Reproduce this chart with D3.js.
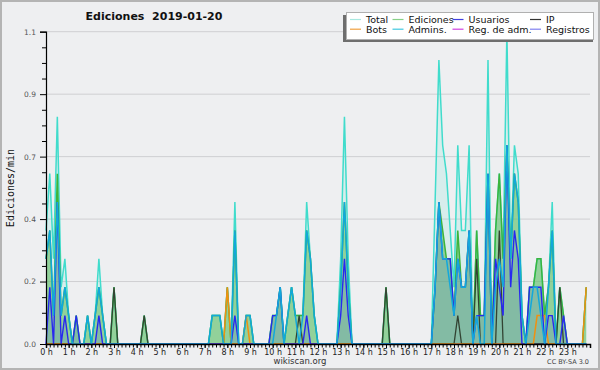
<!DOCTYPE html>
<html>
<head>
<meta charset="utf-8">
<script src="https://cdn.jsdelivr.net/npm/d3@7"></script>
<style>
  body { margin: 0; background: #eeeff1; }
  svg { display: block; }
</style>
</head>
<body>
<div id="chart"></div>
<script>
// Ediciones por minuto, intervalos de 10 minutos (144 por día)
const hourLabels = ["0 h","1 h","2 h","3 h","4 h","5 h","6 h","7 h","8 h","9 h","10 h","11 h",
  "12 h","13 h","14 h","15 h","16 h","17 h","18 h","19 h","20 h","21 h","22 h","23 h"];
const yTicks = [0, 0.22, 0.44, 0.66, 0.88, 1.1];

const total = [
  0.4,0.6,0.3,0.8,0.2,0.3, 0.1,0,0.1,0,0,0.1, 0,0.1,0.3,0.1,0,0, 0.2,0,0,0,0,0,
  0,0,0.1,0,0,0, 0,0,0,0,0,0, 0,0,0,0,0,0, 0,0,0.1,0.1,0.1,0,
  0.2,0,0.5,0,0,0.1, 0.1,0,0,0,0,0, 0.1,0.1,0.2,0,0.1,0.2, 0.1,0.1,0.1,0.5,0.3,0.1,
  0,0,0,0,0,0, 0.3,0.8,0.3,0,0,0, 0,0,0,0,0,0, 0.2,0,0,0,0,0,
  0,0,0,0,0,0, 0,0.5,1.0,0.7,0.6,0.4, 0.2,0.7,0.4,0.4,0.7,0, 0.4,0.1,0.1,1.0,0,0.4,
  0.6,0.3,1.1,0.3,0.7,0.6, 0.1,0,0.2,0.2,0.3,0.3, 0.1,0.2,0.5,0,0.2,0.1, 0,0,0,0,0,0.2
];
const ediciones = [
  0.3,0.4,0.1,0.6,0.1,0.2, 0.1,0,0.1,0,0,0.1, 0,0.1,0.2,0.1,0,0, 0.2,0,0,0,0,0,
  0,0,0.1,0,0,0, 0,0,0,0,0,0, 0,0,0,0,0,0, 0,0,0.1,0.1,0.1,0,
  0.2,0,0.4,0,0,0.1, 0.1,0,0,0,0,0, 0.1,0.1,0.2,0,0.1,0.2, 0.1,0.1,0.1,0.4,0.3,0.1,
  0,0,0,0,0,0, 0.2,0.5,0.2,0,0,0, 0,0,0,0,0,0, 0.2,0,0,0,0,0,
  0,0,0,0,0,0, 0,0.2,0.5,0.4,0.3,0.3, 0.1,0.4,0.2,0.2,0.4,0, 0.4,0.1,0.1,0.6,0,0.4,
  0.6,0.3,0.7,0.3,0.6,0.5, 0.1,0,0.2,0.2,0.3,0.3, 0.1,0.2,0.4,0,0.2,0.1, 0,0,0,0,0,0.2
];
const usuarios = [
  0,0.2,0,0.5,0,0.1, 0,0,0.1,0,0,0, 0,0,0.1,0,0,0, 0,0,0,0,0,0,
  0,0,0,0,0,0, 0,0,0,0,0,0, 0,0,0,0,0,0, 0,0,0,0,0,0,
  0,0,0.1,0,0,0, 0,0,0,0,0,0, 0.1,0.1,0.2,0,0,0, 0,0,0,0.1,0,0,
  0,0,0,0,0,0, 0.1,0.3,0.1,0,0,0, 0,0,0,0,0,0, 0,0,0,0,0,0,
  0,0,0,0,0,0, 0,0.2,0.5,0.3,0.3,0.3, 0.1,0.3,0.2,0.2,0.4,0, 0.1,0.1,0.1,0.6,0,0.3,
  0.2,0.1,0.7,0.2,0.4,0.3, 0,0,0.2,0.2,0.2,0.2, 0,0.1,0.1,0,0,0.1, 0,0,0,0,0,0
];
const ip = [
  0,0,0,0,0,0, 0,0,0,0,0,0, 0,0,0,0,0,0, 0.2,0,0,0,0,0,
  0,0,0.1,0,0,0, 0,0,0,0,0,0, 0,0,0,0,0,0, 0,0,0,0,0,0,
  0,0,0,0,0,0, 0,0,0,0,0,0, 0,0,0,0,0,0, 0,0.1,0,0,0,0,
  0,0,0,0,0,0, 0,0,0,0,0,0, 0,0,0,0,0,0, 0.2,0,0,0,0,0,
  0,0,0,0,0,0, 0,0,0,0,0,0, 0,0.1,0,0,0,0, 0.3,0,0,0,0,0,
  0.4,0,0,0,0,0, 0,0,0,0,0,0, 0,0,0,0,0.2,0, 0,0,0,0,0,0
];
const bots = [
  0,0,0,0,0,0, 0,0,0,0,0,0, 0,0,0,0,0,0, 0,0,0,0,0,0,
  0,0,0,0,0,0, 0,0,0,0,0,0, 0,0,0,0,0,0, 0,0,0,0,0,0,
  0.2,0,0,0,0,0.1, 0,0,0,0,0,0, 0,0,0,0,0,0, 0,0,0,0,0,0,
  0,0,0,0,0,0, 0,0,0,0,0,0, 0,0,0,0,0,0, 0,0,0,0,0,0,
  0,0,0,0,0,0, 0,0,0,0,0,0, 0,0,0,0,0,0, 0,0,0,0,0,0,
  0,0,0,0,0,0, 0,0,0,0,0.1,0.1, 0.1,0,0,0,0,0, 0,0,0,0,0,0.2
];
const admins = [
  0.3,0.4,0.1,0.5,0.1,0.2, 0.1,0,0,0,0,0.1, 0,0.1,0.2,0.1,0,0, 0,0,0,0,0,0,
  0,0,0,0,0,0, 0,0,0,0,0,0, 0,0,0,0,0,0, 0,0,0.1,0.1,0.1,0,
  0,0,0.4,0,0,0.1, 0.1,0,0,0,0,0, 0,0.1,0.2,0,0.1,0.2, 0.1,0,0.1,0.4,0.3,0.1,
  0,0,0,0,0,0, 0.2,0.5,0.2,0,0,0, 0,0,0,0,0,0, 0,0,0,0,0,0,
  0,0,0,0,0,0, 0,0.2,0.5,0.3,0.3,0.2, 0.1,0.3,0.2,0.2,0.4,0, 0.1,0,0,0.6,0,0.2,
  0.3,0.2,0.7,0.3,0.6,0.5, 0.1,0,0.1,0.2,0.2,0.1, 0,0.2,0.4,0,0,0, 0,0,0,0,0,0
];
const regAdm = new Array(144).fill(0);
const registros = new Array(144).fill(0);

const W = 600, H = 370;
const svg = d3.select("#chart").append("svg")
  .attr("width", W).attr("height", H)
  .style("font-family", "DejaVu Sans, sans-serif");

svg.append("rect").attr("x", 1).attr("y", 1).attr("width", W - 2).attr("height", H - 2)
  .attr("fill", "#eeeff1").attr("stroke", "#b4b4b4").attr("stroke-width", 2);

const x = d3.scaleLinear().domain([0, 144]).range([46, 590]);
const y = d3.scaleLinear().domain([0, 1.1]).range([344, 31.7]);

// rejilla horizontal
svg.append("g").selectAll("line").data(yTicks.slice(1)).enter().append("line")
  .attr("x1", 46).attr("x2", 590)
  .attr("y1", d => y(d)).attr("y2", d => y(d))
  .attr("stroke", "#cfcfd2").attr("stroke-width", 1);

const area = d3.area().x((d, i) => x(i)).y0(y(0)).y1(d => y(d));
const line = d3.line().x((d, i) => x(i)).y(d => y(d));

const plot = svg.append("g");
plot.append("path").datum(total).attr("d", area).attr("fill", "rgba(64,224,208,0.13)");
plot.append("path").datum(ediciones).attr("d", area).attr("fill", "rgba(100,190,100,0.6)");
plot.append("path").datum(usuarios).attr("d", area).attr("fill", "rgba(0,0,255,0.1)");

const series = [
  { data: total, color: "#40dccc", w: 1.5 },
  { data: ediciones, color: "#3cb43c", w: 1.5 },
  { data: regAdm, color: "#cc44dd", w: 1.5 },
  { data: registros, color: "#8080ff", w: 1.5 },
  { data: ip, color: "#334433", w: 1.3 },
  { data: bots, color: "#f09010", w: 1.5 },
  { data: usuarios, color: "#2828f0", w: 1.4 },
  { data: admins, color: "#12a8dc", w: 1.5 }
];
series.forEach(s => {
  plot.append("path").datum(s.data).attr("d", line)
    .attr("fill", "none").attr("stroke", s.color).attr("stroke-width", s.w)
    .attr("stroke-linejoin", "miter");
});

// eje Y
const yAxis = svg.append("g").attr("transform", "translate(46,0)")
  .call(d3.axisLeft(y).tickValues(yTicks).tickSize(6).tickFormat(d3.format(".1f")));
svg.append("g").attr("transform", "translate(46,0)")
  .call(d3.axisLeft(y).tickValues(d3.range(0, 44).map(i => i * 0.0275).filter((d, i) => i % 2 === 0 && i % 8 !== 0 && d <= 1.1)).tickSize(4).tickFormat(""))
  .call(g => g.select(".domain").remove());
yAxis.selectAll("text").attr("font-size", "7.5px").attr("fill", "#555").attr("font-family", "DejaVu Sans, sans-serif").attr("dx", "-1");
yAxis.select(".domain").attr("stroke", "#000").attr("stroke-width", 1.2);

// eje X
const xAxis = svg.append("g").attr("transform", "translate(0,344)")
  .call(d3.axisBottom(x).tickValues(d3.range(0, 144, 6)).tickSize(4).tickFormat((d, i) => hourLabels[i]));
svg.append("g").attr("transform", "translate(0,344)")
  .call(d3.axisBottom(x).tickValues(d3.range(0, 145)).tickSize(3.5).tickFormat(""))
  .call(g => g.select(".domain").remove());
xAxis.selectAll("text").attr("font-size", "8px").attr("fill", "#222").attr("font-family", "DejaVu Sans, sans-serif").attr("dy", "0.55em");
xAxis.select(".domain").attr("stroke", "#000").attr("stroke-width", 1.5);
svg.selectAll(".tick line").attr("stroke", "#000");

// textos
svg.append("text").attr("x", 154).attr("y", 20).attr("text-anchor", "middle")
  .attr("font-size", "11px").attr("font-weight", "bold").attr("fill", "#111")
  .attr("xml:space", "preserve").text("Ediciones  2019-01-20");
svg.append("text").attr("transform", "translate(14,188) rotate(-90)").attr("text-anchor", "middle")
  .attr("font-family", "DejaVu Sans Mono, monospace").attr("font-size", "10px").attr("fill", "#111")
  .text("Ediciones/min");
svg.append("text").attr("x", 300).attr("y", 364).attr("text-anchor", "middle")
  .attr("font-size", "8.5px").attr("fill", "#333").text("wikiscan.org");
svg.append("text").attr("x", 589).attr("y", 364).attr("text-anchor", "end")
  .attr("font-size", "6.5px").attr("fill", "#444").text("CC BY-SA 3.0");

// leyenda
const legendItems = [
  { name: "Total", color: "#a8e8e0", col: 0, row: 0 },
  { name: "Ediciones", color: "#88d088", col: 1, row: 0 },
  { name: "Usuarios", color: "#4040e0", col: 2, row: 0 },
  { name: "IP", color: "#333333", col: 3, row: 0 },
  { name: "Bots", color: "#f0a040", col: 0, row: 1 },
  { name: "Admins.", color: "#40c8e0", col: 1, row: 1 },
  { name: "Reg. de adm.", color: "#d040e0", col: 2, row: 1 },
  { name: "Registros", color: "#8080f0", col: 3, row: 1 }
];
const colX = [350, 392.5, 452.5, 530];
const leg = svg.append("g");
leg.append("rect").attr("x", 343).attr("y", 15).attr("width", 250).attr("height", 27).attr("fill", "#6e6e6e");
leg.append("rect").attr("x", 346.5).attr("y", 12.5).attr("width", 247).attr("height", 27)
  .attr("fill", "#fff").attr("stroke", "#b0b0b0");
leg.selectAll(".sw").data(legendItems).enter().append("line")
  .attr("x1", d => colX[d.col]).attr("x2", d => colX[d.col] + 11)
  .attr("y1", d => 19.5 + d.row * 9.7).attr("y2", d => 19.5 + d.row * 9.7)
  .attr("stroke", d => d.color).attr("stroke-width", 1.2);
leg.selectAll(".lt").data(legendItems).enter().append("text")
  .attr("x", d => colX[d.col] + 16).attr("y", d => 22.8 + d.row * 9.7)
  .attr("font-size", "9.5px").attr("fill", "#111").text(d => d.name);
</script>
</body>
</html>
